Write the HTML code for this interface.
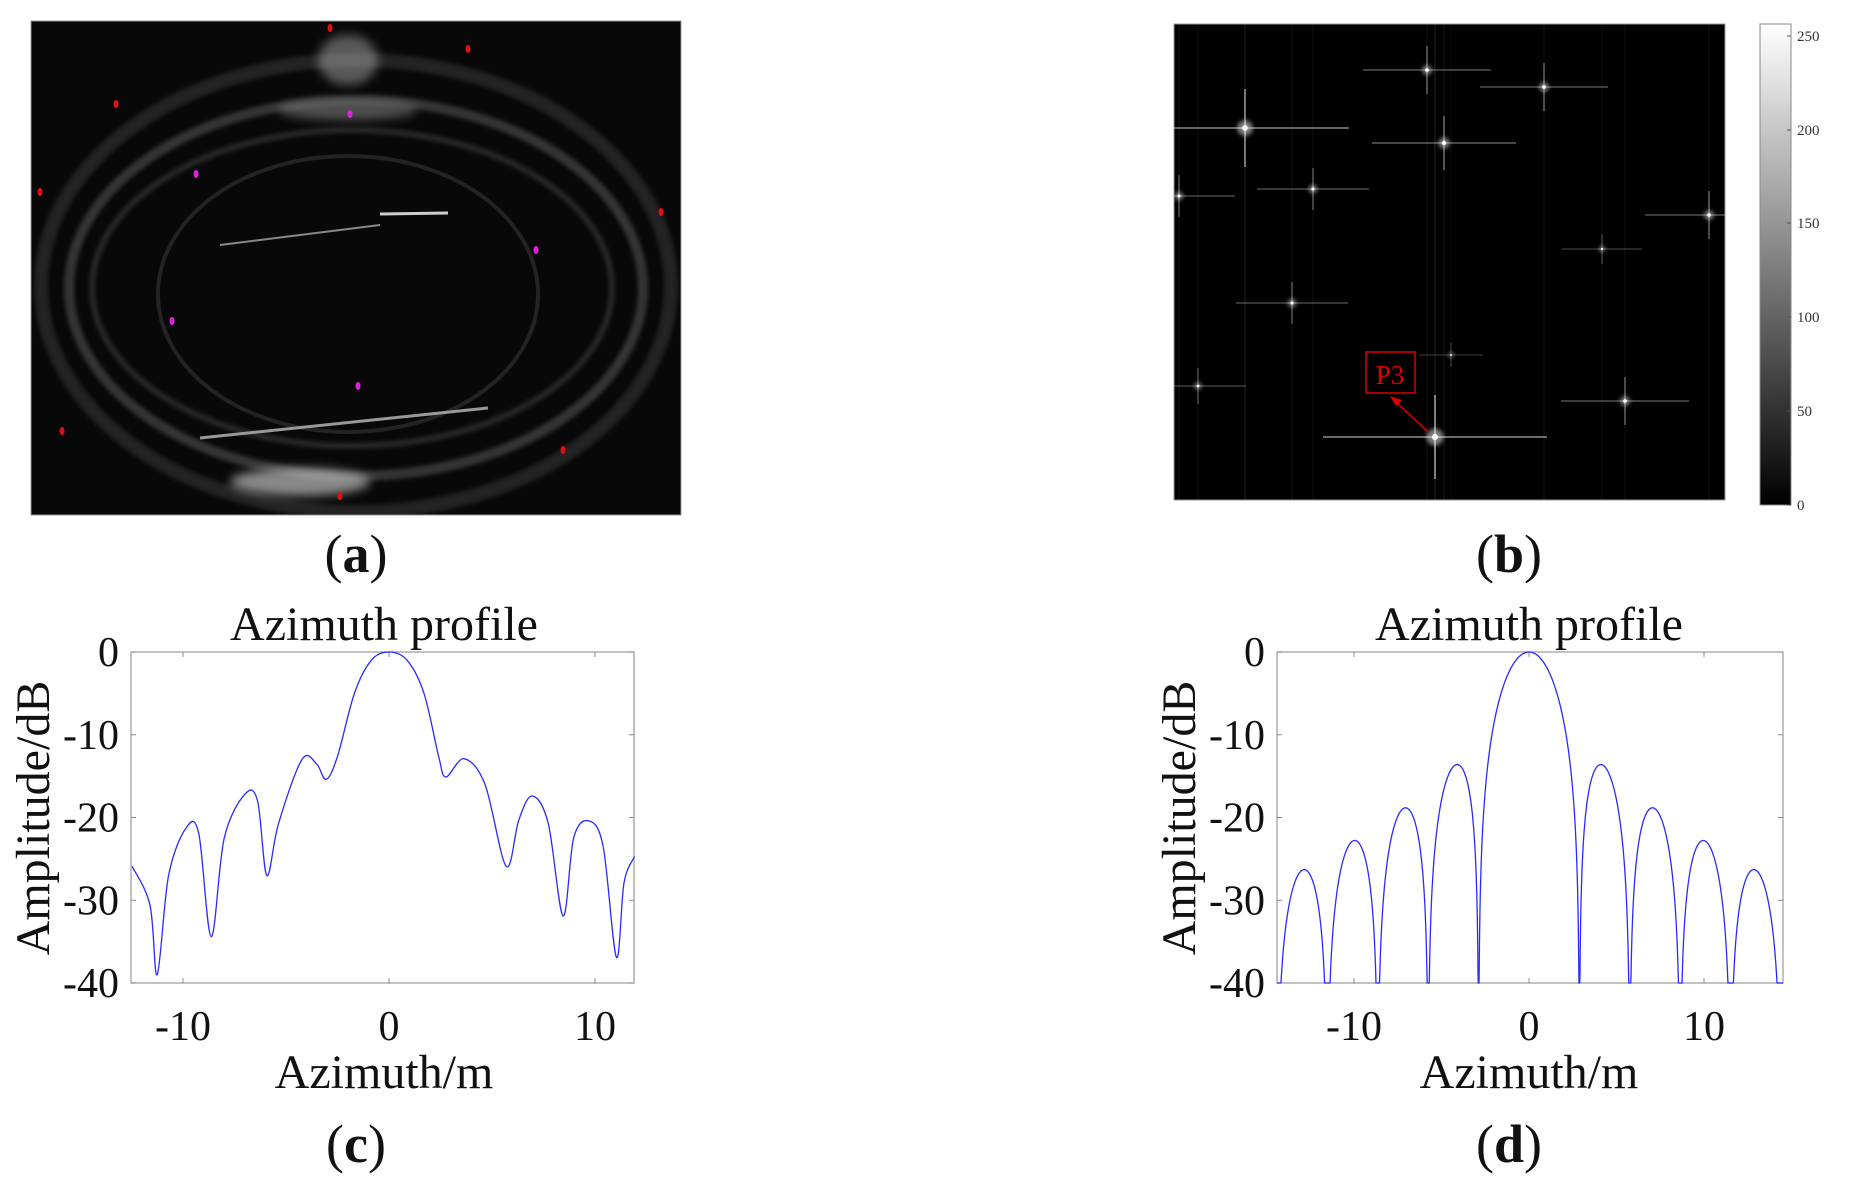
<!DOCTYPE html>
<html><head><meta charset="utf-8"><style>
html,body{margin:0;padding:0;background:#fff;}
body{width:1859px;height:1182px;overflow:hidden;position:relative;}
svg{position:absolute;left:0;top:0;}
text{font-family:"Liberation Serif",serif;fill:#111;}
</style></head><body>
<svg width="1859" height="1182" viewBox="0 0 1859 1182" xmlns="http://www.w3.org/2000/svg">
<defs>
<filter id="bl" x="-50%" y="-50%" width="200%" height="200%"><feGaussianBlur stdDeviation="2"/></filter>
<filter id="bl4" x="-50%" y="-50%" width="200%" height="200%"><feGaussianBlur stdDeviation="5"/></filter>
<linearGradient id="cb" x1="0" y1="1" x2="0" y2="0"><stop offset="0" stop-color="#000"/><stop offset="1" stop-color="#fff"/></linearGradient>
<clipPath id="ca"><rect x="31" y="21" width="650" height="494"/></clipPath>
<clipPath id="cbk"><rect x="1174" y="24" width="551" height="476"/></clipPath>
</defs>
<rect x="31" y="21" width="650" height="494" fill="#080808" stroke="#999" stroke-width="1"/>
<g clip-path="url(#ca)" fill="none">
<ellipse cx="356" cy="286" rx="315" ry="226" stroke="#555" stroke-width="14" opacity="0.35" filter="url(#bl)"/>
<ellipse cx="356" cy="288" rx="287" ry="188" stroke="#777" stroke-width="10" opacity="0.4" filter="url(#bl)"/>
<ellipse cx="352" cy="288" rx="260" ry="158" stroke="#666" stroke-width="6" opacity="0.35" filter="url(#bl)"/>
<ellipse cx="348" cy="294" rx="190" ry="138" stroke="#444" stroke-width="4" opacity="0.45"/>
<ellipse cx="348" cy="60" rx="30" ry="25" fill="#bbb" opacity="0.45" filter="url(#bl4)"/>
<ellipse cx="300" cy="482" rx="70" ry="14" fill="#ddd" opacity="0.6" filter="url(#bl4)"/>
<ellipse cx="348" cy="110" rx="70" ry="10" fill="#bbb" opacity="0.4" filter="url(#bl4)"/>
<line x1="220" y1="245" x2="380" y2="225" stroke="#888" stroke-width="2"/>
<line x1="200" y1="438" x2="488" y2="408" stroke="#999" stroke-width="3"/>
<line x1="380" y1="214" x2="448" y2="213" stroke="#ccc" stroke-width="3"/>
</g>
<g fill="#e01010"><ellipse cx="330" cy="28" rx="2.5" ry="4"/><ellipse cx="468" cy="49" rx="2.5" ry="4"/><ellipse cx="116" cy="104" rx="2.5" ry="4"/><ellipse cx="40" cy="192" rx="2.5" ry="4"/><ellipse cx="661" cy="212" rx="2.5" ry="4"/><ellipse cx="62" cy="431" rx="2.5" ry="4"/><ellipse cx="563" cy="450" rx="2.5" ry="4"/><ellipse cx="340" cy="496" rx="2.5" ry="4"/></g>
<g fill="#e020e0"><ellipse cx="350" cy="114" rx="2.5" ry="4"/><ellipse cx="196" cy="174" rx="2.5" ry="4"/><ellipse cx="536" cy="250" rx="2.5" ry="4"/><ellipse cx="172" cy="321" rx="2.5" ry="4"/><ellipse cx="358" cy="386" rx="2.5" ry="4"/></g>
<rect x="1174" y="24" width="551" height="476" fill="#000" stroke="#999" stroke-width="1"/>
<g clip-path="url(#cbk)" id="stars"></g>
<rect x="1366" y="352" width="49" height="41" fill="none" stroke="#d00" stroke-width="1.5"/>
<text x="1390" y="384" text-anchor="middle" font-size="27" style="fill:#d00">P3</text>
<line x1="1428" y1="432" x2="1394" y2="400" stroke="#d00" stroke-width="1.5"/>
<polygon points="1390,396 1402,400 1396,406" fill="#d00"/>
<rect x="1760" y="24" width="31" height="481" fill="url(#cb)" stroke="#888" stroke-width="1"/>
<g font-size="15" id="cbl"></g>
<text x="356" y="572" text-anchor="middle" font-size="54">(<tspan font-weight="bold">a</tspan>)</text>
<text x="1509" y="572" text-anchor="middle" font-size="54">(<tspan font-weight="bold">b</tspan>)</text>
<g id="plots"></g>
<text x="356" y="1162" text-anchor="middle" font-size="54">(<tspan font-weight="bold">c</tspan>)</text>
<text x="1509" y="1162" text-anchor="middle" font-size="54">(<tspan font-weight="bold">d</tspan>)</text>
</svg>
<script>
(function(){
const NS="http://www.w3.org/2000/svg";
function el(p,t,a,txt){const e=document.createElementNS(NS,t);for(const k in a)e.setAttribute(k,a[k]);if(txt!=null)e.textContent=txt;p.appendChild(e);return e;}
const st=document.getElementById('stars');
const S=[[1245,128,1.3],[1427,70,0.8],[1544,87,0.8],[1444,143,0.9],[1313,189,0.7],[1179,196,0.7],[1709,215,0.8],[1602,249,0.5],[1292,303,0.7],[1451,355,0.4],[1198,386,0.6],[1625,401,0.8],[1435,437,1.4]];
S.forEach(function(s0){const x=s0[0],y=s0[1],s=s0[2];
 el(st,'line',{x1:x,y1:24,x2:x,y2:504,stroke:'#fff','stroke-width':1,opacity:0.1*s});
 el(st,'line',{x1:x-80*s,y1:y,x2:x+80*s,y2:y,stroke:'#fff','stroke-width':2,opacity:0.3*s});
 el(st,'line',{x1:x,y1:y-30*s,x2:x,y2:y+30*s,stroke:'#fff','stroke-width':1.5,opacity:0.45*s});
 el(st,'circle',{cx:x,cy:y,r:6*s,fill:'#fff',opacity:0.5,filter:'url(#bl)'});
 el(st,'circle',{cx:x,cy:y,r:2.2*s,fill:'#fff'});
});
const cbl=document.getElementById('cbl');
[[0,505],[50,411],[100,317],[150,223],[200,130],[250,36]].forEach(function(a){const v=a[0],y=a[1];
 el(cbl,'text',{x:1797,y:y+5,'font-family':'Liberation Sans, sans-serif',style:'fill:#333'},v);
 el(cbl,'line',{x1:1787,y1:y,x2:1791,y2:y,stroke:'#555'});
});
const P=document.getElementById('plots');
const T=652,B=983,ppd=(B-T)/40;
function catmull(pts){let d='M'+pts[0][0].toFixed(1)+','+pts[0][1].toFixed(1);
 for(let i=0;i<pts.length-1;i++){const p0=pts[Math.max(0,i-1)],p1=pts[i],p2=pts[i+1],p3=pts[Math.min(pts.length-1,i+2)];
 const c1=[p1[0]+(p2[0]-p0[0])/6,p1[1]+(p2[1]-p0[1])/6],c2=[p2[0]-(p3[0]-p1[0])/6,p2[1]-(p3[1]-p1[1])/6];
 d+=' C'+c1[0].toFixed(1)+','+c1[1].toFixed(1)+' '+c2[0].toFixed(1)+','+c2[1].toFixed(1)+' '+p2[0].toFixed(1)+','+p2[1].toFixed(1);}
 return d;}
function axes(L,R,x0,ppm,cx,curveD){
 el(P,'rect',{x:L,y:T,width:R-L,height:B-T,fill:'none',stroke:'#999','stroke-width':1.2});
 for(let v=0;v>=-40;v-=10){const y=T-v*ppd;
  el(P,'line',{x1:L,y1:y,x2:L+5,y2:y,stroke:'#888'});el(P,'line',{x1:R,y1:y,x2:R-5,y2:y,stroke:'#888'});
  el(P,'text',{x:L-12,y:y+14,'text-anchor':'end','font-size':42},v);}
 [-10,0,10].forEach(function(v){const x=x0+v*ppm;
  el(P,'line',{x1:x,y1:B,x2:x,y2:B-5,stroke:'#888'});el(P,'line',{x1:x,y1:T,x2:x,y2:T+5,stroke:'#888'});
  el(P,'text',{x:x,y:1040,'text-anchor':'middle','font-size':42},v);});
 el(P,'text',{x:cx,y:640,'text-anchor':'middle','font-size':48},'Azimuth profile');
 el(P,'text',{x:cx,y:1088,'text-anchor':'middle','font-size':48},'Azimuth/m');
 el(P,'text',{x:0,y:0,'text-anchor':'middle','font-size':48,transform:'translate('+(L-82)+',818) rotate(-90)'},'Amplitude/dB');
 el(P,'path',{d:curveD,fill:'none',stroke:'#2a2aff','stroke-width':1.3});
}
const cdat=[[-12.47,-25.9],[-11.6,-30.6],[-11.25,-39],[-10.7,-27],[-9.86,-21.3],[-9.24,-21.9],[-8.63,-34.4],[-8.0,-22.5],[-7.0,-17.2],[-6.38,-18],[-5.93,-27],[-5.36,-20.7],[-4.23,-13],[-3.52,-13.5],[-3.05,-15.4],[-2.5,-12.6],[-1.68,-5],[-0.86,-1],[0,0],[0.88,-1],[1.7,-5],[2.41,-12.6],[2.76,-15.1],[3.64,-12.9],[4.66,-16],[5.69,-25.9],[6.3,-20.3],[6.95,-17.4],[7.73,-20.7],[8.45,-31.9],[8.96,-22.5],[9.67,-20.4],[10.39,-23.4],[11.04,-36.9],[11.41,-27.9],[11.92,-24.7]];
const x0c=389,pc=20.6;
axes(131,634,x0c,pc,384,catmull(cdat.map(function(a){return [x0c+a[0]*pc,T-a[1]*ppd];})));
const x0d=1529,pd=17.5;let dd='';let pen=false;
for(let px=1277;px<=1783;px+=0.25){const x=(px-x0d)/pd;const u=Math.PI*x/2.88;let s=Math.abs(u)<1e-6?1:Math.sin(u)/u;
 let db=20*Math.log10(Math.abs(s)+1e-9)-0.02*x*x;if(db<-40)db=-40;const y=T-db*ppd;
 dd+=(pen?' L':' M')+px.toFixed(2)+','+y.toFixed(1);pen=true;}
axes(1277,1783,x0d,pd,1529,dd);
})();
</script>
</body></html>
